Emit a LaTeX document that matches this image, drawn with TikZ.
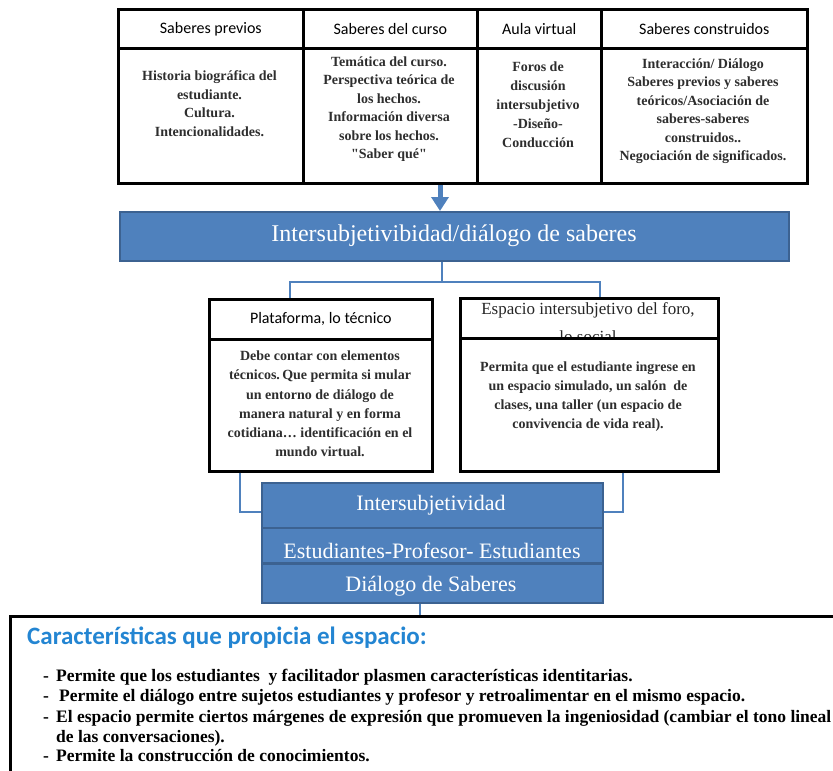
\documentclass[tikz,border=0pt]{standalone}
\usepackage{fontspec}
\setmainfont{Liberation Serif}
\newfontfamily\rawserif[Ligatures=TeXOff]{Liberation Serif}
\newfontfamily\calibri{Carlito}
\usetikzlibrary{arrows.meta,shadows}
\definecolor{boxblue}{RGB}{79,129,189}
\definecolor{boxedge}{RGB}{60,98,145}
\definecolor{linkblue}{RGB}{79,129,189}
\definecolor{titleblue}{RGB}{35,133,210}
\newcommand{\strq}{{\rawserif\bfseries "}}
\begin{document}
\begin{tikzpicture}[x=1pt,y=-1pt,
  cell/.style={draw=black, line width=2.6pt, anchor=north west, inner sep=0pt, fill=white,
    drop shadow={shadow xshift=2pt, shadow yshift=-2pt, fill=black!35, opacity=0.6}},
  headtxt/.style={font=\calibri\fontsize{16}{19}\selectfont},
  bodytxt/.style={font=\bfseries\fontsize{14}{18.5}\selectfont, text=black!82, align=center, inner sep=0pt, anchor=north},
  bluebox/.style={draw=boxedge, fill=boxblue, line width=2pt, anchor=north west, inner sep=0pt},
  bluetxt/.style={text=white, inner sep=0pt, font=\fontsize{22}{26}\selectfont},
  link/.style={draw=linkblue, line width=2.5pt},
  bul/.style={anchor=base west, inner sep=0pt, font=\bfseries\fontsize{17.5}{20}\selectfont},
]
\useasboundingbox (0,0) rectangle (833,771);

% ---- top table ----
\node[cell, minimum width=185pt, minimum height=39pt, headtxt] (h1) at (117,8) {Saberes previos};
\node[cell, minimum width=174pt, minimum height=39pt, headtxt] (h2) at (302,8) {Saberes del curso};
\node[cell, minimum width=124pt, minimum height=39pt, headtxt] (h3) at (476,8) {Aula virtual};
\node[cell, minimum width=206pt, minimum height=39pt, headtxt] (h4) at (600,8) {Saberes construidos};
\node[cell, minimum width=185pt, minimum height=135pt] (b1) at (117,47) {};
\node[cell, minimum width=174pt, minimum height=135pt] (b2) at (302,47) {};
\node[cell, minimum width=124pt, minimum height=135pt] (b3) at (476,47) {};
\node[cell, minimum width=206pt, minimum height=135pt] (b4) at (600,47) {};
\node[bodytxt] (t1) at (209.5,70.5) {Historia biográfica del\\estudiante.\\Cultura.\\Intencionalidades.};
\node[bodytxt] (t2) at (389,56.5) {Temática del curso.\\Perspectiva teórica de\\los hechos.\\Información diversa\\sobre los hechos.\\\strq Saber qué\strq};
\node[bodytxt, font=\bfseries\fontsize{14}{19}\selectfont] (t3) at (538,61.5) {Foros de\\discusión\\intersubjetivo\\-Diseño-\\Conducción};
\node[bodytxt] (t4) at (703,58.5) {Interacción/ Diálogo\\Saberes previos y saberes\\teóricos/Asociación de\\saberes-saberes\\construidos..\\Negociación de significados.};

% ---- main bar ----
\node[bluebox, minimum width=669pt, minimum height=49pt] (bar) at (119,211) {};
\node[bluetxt, font=\fontsize{24}{28}\selectfont] (bartxt) at (454,236) {Intersubjetivibidad/diálogo de saberes};
\coordinate (arrowfrom) at (440,185);
\draw[draw=linkblue, line width=5pt, -{Triangle[width=17pt,length=14pt]}] (arrowfrom) -- (arrowfrom |- bar.north);

% ---- middle boxes ----
\node[cell, minimum width=223pt, minimum height=40pt, headtxt] (lh) at (208,298) {Plataforma, lo técnico};
\node[cell, minimum width=223pt, minimum height=132pt] (lb) at (208,338) {};
\node[bodytxt, font=\bfseries\fontsize{14}{19.3}\selectfont] (lt) at (320,350.5) {Debe contar con elementos\\técnicos.\,Que permita si mular\\un entorno de diálogo de\\manera natural y en forma\\cotidiana… identificación en el\\mundo virtual.};

\node[cell, minimum width=258pt, minimum height=40pt] (rh) at (459,297) {};
\node[inner sep=0pt, anchor=north, align=center, font=\fontsize{17}{28}\selectfont, text=black!85] (rht) at (588,302) {Espacio intersubjetivo del foro,\\lo social};
\node[cell, minimum width=258pt, minimum height=133pt] (rb) at (459,337) {};
\node[bodytxt, font=\bfseries\fontsize{14}{19}\selectfont] (rt) at (588,361.5) {Permita que el estudiante ingrese en\\un espacio simulado, un salón\ \ de\\clases, una taller (un espacio de\\convivencia de vida real).};

% ---- connectors from bar ----
\coordinate (split) at (442,282);
\coordinate (jl) at (290,282);
\coordinate (jr) at (600,282);
\draw[link] (split |- bar.south) -- (split);
\draw[link] (lh.north -| jl) -- (jl) -- (jr) -- (rh.north -| jr);

% ---- stacked blue boxes ----
\node[bluebox, minimum width=341pt, minimum height=45pt] (s1) at (261,482) {};
\node[bluetxt] (s1t) at (431,505) {Intersubjetividad};
\node[bluebox, minimum width=341pt, minimum height=35pt] (s2) at (261,527) {};
\node[bluetxt] (s2t) at (432,551) {Estudiantes-Profesor- Estudiantes};
\node[bluebox, minimum width=341pt, minimum height=39pt] (s3) at (261,563) {};
\node[bluetxt] (s3t) at (431,586) {Diálogo de Saberes};

\coordinate (ll) at (240,512);
\coordinate (rr) at (623,512);
\draw[link] (lb.south -| ll) -- (ll) -- (ll -| s1.west);
\draw[link] (rb.south -| rr) -- (rr) -- (rr -| s1.east);

% ---- bottom box ----
\coordinate (dl) at (420,616);
\draw[link] (dl |- s3.south) -- (dl);
\coordinate (bbl) at (10,780);
\coordinate (bbt) at (10,616);
\coordinate (bbr) at (845,616);
\draw[line width=3pt] (bbl) -- (bbt) -- (bbr);

\node[anchor=base west, inner sep=0pt, text=titleblue, font=\calibri\bfseries\fontsize{25}{28}\selectfont] (title) at (27,644) {Características que propicia el espacio:};

\node[bul] (d1) at (43,681) {-};
\node[bul] (l1) at (56,681) {Permite que los estudiantes\ \ y facilitador plasmen características identitarias.};
\node[bul] (d2) at (43,701) {-};
\node[bul] (l2) at (59,701) {Permite el diálogo entre sujetos estudiantes y profesor y retroalimentar en el mismo espacio.};
\node[bul] (d3) at (43,722) {-};
\node[bul] (l3) at (56,722) {El espacio permite ciertos márgenes de expresión que promueven la ingeniosidad (cambiar el tono lineal};
\node[bul] (l4) at (56,742) {de las conversaciones).};
\node[bul] (d5) at (43,761) {-};
\node[bul] (l5) at (56,761) {Permite la construcción de conocimientos.};
\end{tikzpicture}
\end{document}
